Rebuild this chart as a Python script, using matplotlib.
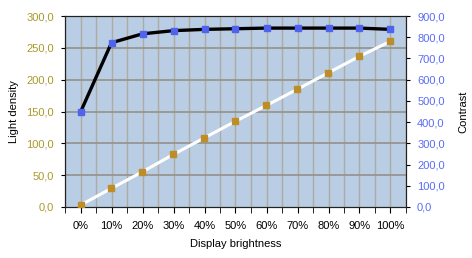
import numpy as np
import matplotlib.pyplot as plt
from matplotlib.ticker import FuncFormatter, MultipleLocator

plt.rcParams["font.family"] = ["Liberation Sans", "DejaVu Sans"]

brightness = ["0%", "10%", "20%", "30%", "40%", "50%", "60%", "70%", "80%", "90%", "100%"]
light_density = [149, 258, 272, 277, 279, 280, 281, 281, 281, 281, 279]
contrast = [9, 88, 166, 248, 326, 404, 479, 555, 633, 710, 781]

x = np.arange(len(brightness))
comma = FuncFormatter(lambda v, pos: f"{v:.1f}".replace(".", ","))

fig = plt.figure(figsize=(4.72, 2.58), dpi=100)
ax = fig.add_axes([65 / 472, 1 - 207 / 258, 341 / 472, 191 / 258])
ax2 = ax.twinx()

ax.set_facecolor("#b9cde5")
ax.set_xlim(-0.5, 10.5)
ax.set_ylim(0, 300)
ax2.set_ylim(0, 900)

# grid: vertical at centers and category boundaries
for v in np.arange(-0.5, 10.6, 0.5):
    ax.axvline(v, color="#aeaca2", lw=1.0, zorder=1)
for h in np.arange(50, 300, 50):
    ax.axhline(h, color="#94918a", lw=1.2, zorder=1)

ax.plot(x, light_density, color="black", lw=2.4, zorder=3)
ax.plot(x, light_density, ls="none", marker="s", ms=4.2, color="#4f63ee", zorder=4)
ax2.plot(x, contrast, color="white", lw=2.2, zorder=3)
ax2.plot(x, contrast, ls="none", marker="s", ms=4.2, color="#bf8d26", zorder=4)

ax.set_xticks(x)
ax.set_xticklabels(brightness)
ax.set_xticks(np.arange(-0.5, 10.6, 1), minor=True)
ax.yaxis.set_major_locator(MultipleLocator(50))
ax2.yaxis.set_major_locator(MultipleLocator(100))
ax.yaxis.set_major_formatter(comma)
ax2.yaxis.set_major_formatter(comma)

ax.tick_params(axis="x", labelsize=8, length=4, pad=6, colors="black")
ax.tick_params(axis="x", which="minor", length=4)
ax.tick_params(axis="y", labelsize=8, length=3, pad=5, labelcolor="#a89a2a")
ax2.tick_params(axis="y", labelsize=8, length=3, pad=5, labelcolor="#5a6cf5")

for sp in ax.spines.values():
    sp.set_color("#222222")
for sp in ax2.spines.values():
    sp.set_color("#222222")

ax.set_xlabel("Display brightness", fontsize=8, labelpad=6)
ax.set_ylabel("Light density", fontsize=8, labelpad=5)
ax2.set_ylabel("Contrast", fontsize=8, labelpad=10)

fig.savefig("out.png", dpi=100)
